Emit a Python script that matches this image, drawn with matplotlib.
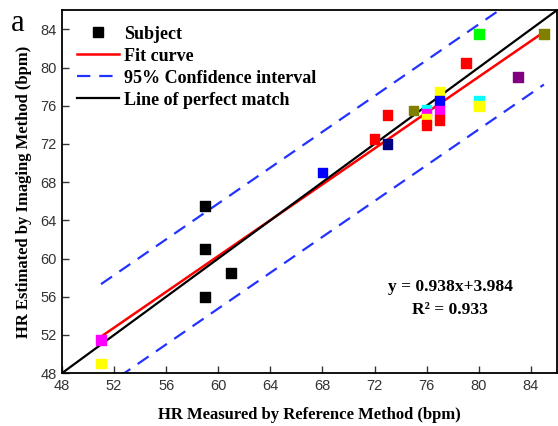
import matplotlib.pyplot as plt
import numpy as np

# measured (reference) vs estimated (imaging) heart rate
hr_ref = [59, 59, 61, 59, 51, 51, 68, 72, 73, 73, 75, 76, 76, 76, 76,
          77, 77, 77, 77, 79, 80, 80, 80, 83, 85]
hr_img = [65.5, 61, 58.5, 56, 51.5, 49, 69, 72.5, 75, 72, 75.5, 75.6, 75.2, 74.6, 74,
          77.5, 76.5, 75.5, 74.5, 80.5, 83.5, 76.5, 76, 79, 83.5]
colors = ['black', 'black', 'black', 'black', 'magenta', 'yellow', 'blue', 'red', 'red', 'navy',
          'olive', 'cyan', 'magenta', 'yellow', 'red',
          'yellow', 'blue', 'magenta', 'red', 'red', 'lime', 'cyan', 'yellow', 'purple', 'olive']

slope, intercept = 0.938, 3.984
ci_half = 5.5
fit_x = [51, 85]

serif = 'Liberation Serif'
sans = 'Liberation Sans'

fig = plt.figure(figsize=(5.58, 4.26), dpi=100)
ax = fig.add_axes([0.111, 0.124, 0.887, 0.852])

ax.scatter(hr_ref, hr_img, c=colors, marker='s', s=48, zorder=3, label='Subject')
# black square for the legend handle
handles = [plt.Line2D([], [], marker='s', color='black', ls='none', markersize=7)]

fx = np.array(fit_x, dtype=float)
fy = slope * fx + intercept
h_fit, = ax.plot(fx, fy, color='red', lw=1.8, zorder=2)
h_ci, = ax.plot(fx, fy + ci_half, color='#2233ff', lw=1.6, ls=(0, (6, 4)), zorder=2)
ax.plot(fx, fy - ci_half, color='#2233ff', lw=1.6, ls=(0, (6, 4)), zorder=2)
h_pm, = ax.plot([48, 86], [48, 86], color='black', lw=1.6, zorder=2)
handles += [h_fit, h_ci, h_pm]

ax.set_xlim(48, 86)
ax.set_ylim(48, 86)
ax.set_xticks(range(48, 85, 4))
ax.set_yticks(range(48, 85, 4))
ax.tick_params(direction='in', length=5, width=1, labelsize=10.5, colors='#333333', pad=4)
for lab in ax.get_xticklabels() + ax.get_yticklabels():
    lab.set_fontfamily(sans)
for sp in ax.spines.values():
    sp.set_linewidth(1.3)

ax.set_xlabel('HR Measured by Reference Method (bpm)', fontfamily=serif,
              fontweight='bold', fontsize=12, labelpad=10)
ax.set_ylabel('HR Estimated by Imaging Method (bpm)', fontfamily=serif,
              fontweight='bold', fontsize=12, labelpad=6)

leg = ax.legend(handles, ['Subject', 'Fit curve', '95% Confidence interval', 'Line of perfect match'],
                loc='upper left', frameon=False, handlelength=2.3, handletextpad=0.3,
                labelspacing=0.28, borderaxespad=0.45, borderpad=0.4,
                prop={'family': serif, 'weight': 'bold', 'size': 13})

ax.text(77.8, 57.0, 'y = 0.938x+3.984', ha='center', va='center',
        fontfamily=serif, fontweight='bold', fontsize=12.5)
ax.text(77.8, 54.6, 'R² = 0.933', ha='center', va='center',
        fontfamily=serif, fontweight='bold', fontsize=12.5)

fig.text(0.032, 0.945, 'a', fontfamily=serif, fontsize=22, ha='center', va='center')

fig.savefig('out.png', dpi=100)
